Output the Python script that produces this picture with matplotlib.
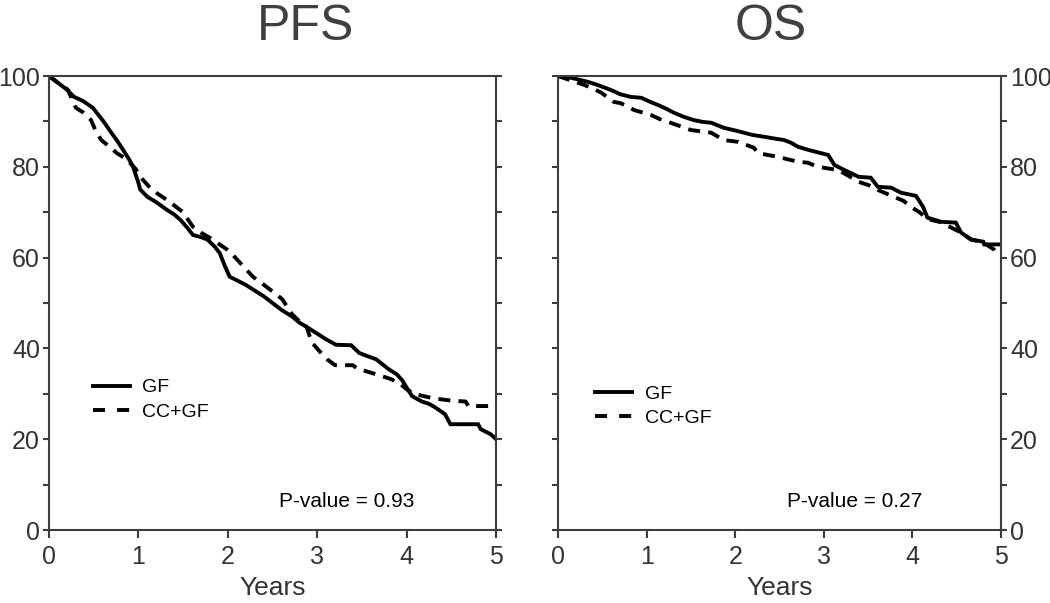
import matplotlib
matplotlib.use("Agg")
import matplotlib.pyplot as plt
from matplotlib.lines import Line2D

# ---------------- data ----------------
years_ticks = [0, 1, 2, 3, 4, 5]
pct_ticks = [0, 10, 20, 30, 40, 50, 60, 70, 80, 90, 100]
pct_labels = ["0", "", "20", "", "40", "", "60", "", "80", "", "100"]

pfs_gf_t = [0, 0.1, 0.2, 0.28, 0.38, 0.49, 0.55, 0.61, 0.69, 0.76, 0.83, 0.9, 0.94,
            1.0, 1.02, 1.1, 1.2, 1.32, 1.4, 1.47, 1.55, 1.61, 1.7, 1.77, 1.85, 1.91,
            1.96, 2.02, 2.1, 2.2, 2.28, 2.4, 2.5, 2.6, 2.72, 2.8, 2.9, 3.02, 3.1, 3.21,
            3.38, 3.47, 3.56, 3.66, 3.73, 3.8, 3.89, 3.95, 3.99, 4.06, 4.17, 4.25, 4.32,
            4.43, 4.49, 4.8, 4.83, 4.94, 4.98, 5.0]
pfs_gf_s = [100, 98.5, 97, 95.4, 94.5, 93, 91.5, 90, 87.7, 85.8, 83.7, 81.5, 80,
            76.5, 75, 73.4, 72.2, 70.5, 69.5, 68.3, 66.5, 65, 64.5, 64, 62.5, 61,
            58.5, 55.8, 55, 54, 53, 51.5, 50, 48.5, 47, 45.7, 44.5, 43, 42, 40.8,
            40.7, 39, 38.3, 37.6, 36.5, 35.4, 34.3, 33, 31.7, 29.5, 28.3, 27.8, 27,
            25.5, 23.3, 23.3, 22.2, 21.1, 20.4, 20.0]

pfs_cc_t = [0, 0.1, 0.21, 0.3, 0.38, 0.47, 0.52, 0.58, 0.67, 0.76, 0.84, 0.91, 0.97,
            1.02, 1.08, 1.13, 1.22, 1.32, 1.4, 1.5, 1.55, 1.61, 1.7, 1.83, 1.9, 1.99,
            2.06, 2.13, 2.2, 2.28, 2.37, 2.47, 2.55, 2.61, 2.72, 2.8, 2.88, 2.94, 3.02,
            3.11, 3.2, 3.4, 3.45, 3.56, 3.77, 3.83, 3.94, 4.0, 4.08, 4.3, 4.5, 4.66,
            4.69, 5.0]
pfs_cc_s = [100, 98.5, 97, 93, 92, 90.3, 88, 86, 84.5, 83, 82, 80.8, 79.5,
            77.8, 76.5, 75.4, 74, 72.7, 71.5, 70, 68.5, 66.8, 65.5, 64, 63, 61.8,
            60.5, 59, 57.5, 55.8, 54.5, 53, 51.8, 50.8, 47.5, 46, 44.8, 41.3, 39.5,
            37.6, 36.3, 36.3, 35.5, 34.9, 33.6, 33.2, 32, 31, 30, 29, 28.5, 28.3,
            27.3, 27.3]

os_gf_t = [0, 0.15, 0.34, 0.45, 0.6, 0.7, 0.82, 0.94, 1.03, 1.13, 1.22, 1.31, 1.42,
           1.53, 1.63, 1.73, 1.87, 2.0, 2.1, 2.2, 2.33, 2.45, 2.55, 2.63, 2.71, 2.83,
           2.95, 3.05, 3.12, 3.23, 3.32, 3.39, 3.53, 3.61, 3.76, 3.87, 4.04, 4.12,
           4.17, 4.32, 4.49, 4.55, 4.66, 4.8, 4.81, 5.0]
os_gf_s = [100, 99.6, 98.7, 98, 96.9, 96, 95.4, 95.2, 94.4, 93.6, 92.8, 91.9, 91,
           90.3, 89.9, 89.7, 88.6, 88, 87.5, 87, 86.6, 86.2, 85.9, 85.3, 84.4, 83.7,
           83.1, 82.6, 80.4, 79.3, 78.5, 77.8, 77.6, 75.6, 75.4, 74.3, 73.6, 71.2,
           68.8, 67.9, 67.7, 65.5, 64, 63.5, 62.9, 62.9]

os_cc_t = [0, 0.15, 0.3, 0.4, 0.49, 0.63, 0.71, 0.86, 1.05, 1.15, 1.27, 1.4, 1.5,
           1.73, 1.87, 2.03, 2.21, 2.26, 2.48, 2.71, 2.82, 2.93, 3.16, 3.28, 3.39,
           3.5, 3.61, 3.79, 3.9, 3.98, 4.08, 4.17, 4.32, 4.55, 4.66, 4.8, 4.92, 4.97,
           5.0]
os_cc_s = [100, 99, 98, 97.2, 96.3, 94.3, 94, 92.5, 91.4, 90.5, 89.7, 88.8, 88.1,
           87.5, 85.9, 85.5, 84.2, 83, 82.2, 81.1, 80.9, 80, 79.3, 78, 76.7,
           76, 74.9, 73.4, 72.5, 71.2, 70, 68.5, 67.8, 65.5, 64, 63.3, 61.8, 60.5,
           60.5]

panels = [
    dict(title="PFS", t1=pfs_gf_t, s1=pfs_gf_s, t2=pfs_cc_t, s2=pfs_cc_s,
         pval="P-value = 0.93"),
    dict(title="OS", t1=os_gf_t, s1=os_gf_s, t2=os_cc_t, s2=os_cc_s,
         pval="P-value = 0.27"),
]
series_names = ["GF", "CC+GF"]

# ---------------- styling ----------------
W, H = 1050, 603
fig = plt.figure(figsize=(W / 100, H / 100), dpi=100)
fig.patch.set_facecolor("white")

GRAY = "#3d3d3d"
TXT = "#333333"
MAIN = ["Liberation Sans", "DejaVu Sans"]

LW = 2.8
ax_top, ax_bot = 76, 530
boxes = [(49, 496), (558, 1001)]
title_x = [0.573, 0.479]
leg_anchor = [(0.098, 0.333), (0.084, 0.319)]

for i, (p, (x0, x1)) in enumerate(zip(panels, boxes)):
    ax = fig.add_axes([x0 / W, 1 - ax_bot / H, (x1 - x0) / W, (ax_bot - ax_top) / H])
    ax.set_xlim(0, 5)
    ax.set_ylim(0, 100)
    ax.plot(p["t1"], p["s1"], color="black", lw=LW, solid_joinstyle="miter",
            label=series_names[0], clip_on=True)
    ax.plot(p["t2"], p["s2"], color="black", lw=LW, linestyle=(0, (3.1, 2.1)),
            dash_capstyle="butt", label=series_names[1], clip_on=True)

    for sp in ax.spines.values():
        sp.set_color(GRAY)
        sp.set_linewidth(1.5)

    ax.set_xticks(years_ticks)
    ax.set_xticklabels([str(v) for v in years_ticks], fontsize=18, color=TXT,
                       family=MAIN)
    ax.set_yticks(pct_ticks)
    ax.set_yticklabels(pct_labels, fontsize=18, color=TXT, family=MAIN)
    ax.tick_params(axis="x", direction="out", length=6, width=1.5, color=GRAY,
                   pad=5, top=False, bottom=True)
    ax.tick_params(axis="y", direction="out", length=4.5, width=1.5,
                   color=GRAY, pad=2, left=True, right=True,
                   labelleft=(i == 0), labelright=(i == 1))

    ax.set_xlabel("Years", fontsize=19, color=TXT, family=MAIN, labelpad=5)
    ax.text(title_x[i], 1.079, p["title"], transform=ax.transAxes, ha="center",
            va="baseline", fontsize=36, color="#404040", family=MAIN)
    ax.text(0.667 if i == 0 else 0.67, 0.062, p["pval"], transform=ax.transAxes,
            ha="center", va="center", fontsize=15, color="black", family=MAIN)

    handles = [Line2D([], [], color="black", lw=LW),
               Line2D([], [], color="black", lw=LW, linestyle=(0, (3.1, 3.1)))]
    ax.legend(handles, series_names, loc="upper left",
              bbox_to_anchor=leg_anchor[i], frameon=False,
              borderpad=0, borderaxespad=0, handlelength=1.9,
              handletextpad=0.65, labelspacing=0.35,
              prop=dict(family=MAIN, size=14))

fig.savefig("out.png", dpi=100, facecolor="white")
